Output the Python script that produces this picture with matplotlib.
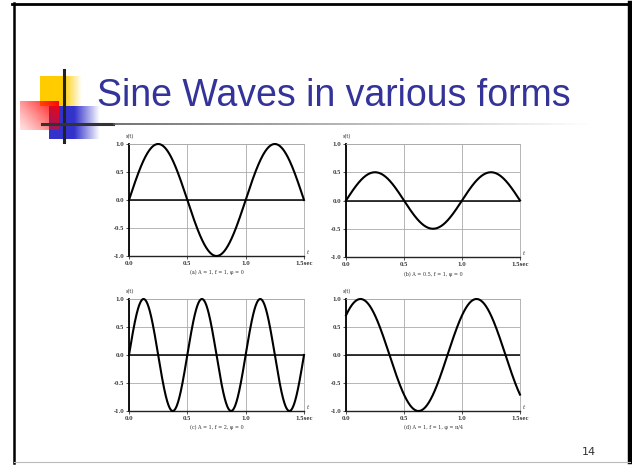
import numpy as np
import matplotlib.pyplot as plt
from matplotlib.collections import LineCollection

# 每个小图的正弦参数 (振幅, 频率, 相位)
amplitudes = [1.0, 0.5, 1.0, 1.0]
frequencies = [1.0, 1.0, 2.0, 1.0]
phases = [0.0, 0.0, 0.0, np.pi / 4]
captions = ['(a) A = 1, f = 1, φ = 0', '(b) A = 0.5, f = 1, φ = 0',
            '(c) A = 1, f = 2, φ = 0', '(d) A = 1, f = 1, φ = π/4']
y_ticks = [-1.0, -0.5, 0.0, 0.5, 1.0]
y_tick_labels = ['-1.0', '-0.5', '0.0', '0.5', '1.0']
x_ticks = [0.0, 0.5, 1.0, 1.5]
x_tick_labels = ['0.0', '0.5', '1.0', '1.5sec']
t = np.linspace(0, 1.5, 600)

W, H = 632, 465


def box(x0, y0, x1, y1):
    return [x0 / W, 1 - y1 / H, (x1 - x0) / W, (y1 - y0) / H]


fig = plt.figure(figsize=(6.32, 4.65), dpi=100)

# 背景层：边框和左上角装饰
bg = fig.add_axes([0, 0, 1, 1], zorder=0)
bg.axis('off')

bg.plot([14, 14], [3, 463], color='black', lw=1.8)
bg.plot([12, 630], [4, 4], color='black', lw=2.0)
bg.plot([630, 630], [3, 462], color='black', lw=3.2)
bg.plot([14, 630], [462, 462], color='#bbbbbb', lw=0.8)

nx = 100
xx = np.linspace(0, 1, nx)

# 黄色方块
img = np.zeros((1, nx, 4))
img[..., 0], img[..., 1], img[..., 2] = 1.0, 0.8, 0.0
img[0, :, 3] = np.clip(np.where(xx < 0.55, 1.0, (1 - xx) / 0.45), 0, 1)
bg.imshow(img, extent=(40, 82, 106, 77), aspect='auto', interpolation='bilinear')

# 蓝色方块
img = np.zeros((1, nx, 4))
img[..., 0], img[..., 1], img[..., 2] = 0.2, 0.2, 0.8
img[0, :, 3] = np.clip(np.where(xx < 0.5, 1.0, (1 - xx) / 0.5), 0, 1)
bg.imshow(img, extent=(49, 100, 139, 106), aspect='auto', interpolation='bilinear')

# 红色方块（右上最红）
gx, gy = np.meshgrid(np.linspace(0, 1, 60), np.linspace(0, 1, 60))
img = np.zeros((60, 60, 4))
img[..., 0], img[..., 1], img[..., 2] = 1.0, 0.0, 0.0
img[..., 3] = np.clip(0.12 + 0.88 * (0.6 * gx + 0.4 * (1 - gy)) ** 1.2, 0, 1)
bg.imshow(img, extent=(20, 59, 130, 101), aspect='auto', interpolation='bilinear')

bg.set_xlim(0, W)
bg.set_ylim(H, 0)

# 十字线与标题下划线
bg.plot([64, 64], [70, 142], color='#222222', lw=2.2)
bg.plot([42, 113], [124.5, 124.5], color='#333333', lw=2.2)
xs = np.linspace(113, 595, 80)
segs = [[(xs[i], 124.5), (xs[i + 1], 124.5)] for i in range(len(xs) - 1)]
fade = np.linspace(0.35, 1.0, len(segs))
bg.add_collection(LineCollection(segs, colors=[(f, f, f) for f in fade], lw=1.2))

fig.text(97 / W, 1 - 106 / H, 'Sine Waves in various forms', fontsize=27,
         color='#333399', family=['Liberation Sans', 'DejaVu Sans'],
         va='baseline')
fig.text(582 / W, 1 - 455 / H, '14', fontsize=8, color='#333333')

# 四个小图
boxes = [(129, 144, 304, 256), (346, 144, 520, 257),
         (129, 299, 304, 411), (346, 299, 520, 411)]

for i in range(4):
    ax = fig.add_axes(box(*boxes[i]), zorder=2)
    s = amplitudes[i] * np.sin(2 * np.pi * frequencies[i] * t + phases[i])
    ax.plot(t, s, color='black', lw=1.5, clip_on=False, zorder=4)
    ax.axhline(0, color='black', lw=1.1, zorder=3)
    ax.set_xlim(0, 1.5)
    ax.set_ylim(-1, 1)
    ax.set_xticks(x_ticks, x_tick_labels)
    ax.set_yticks(y_ticks, y_tick_labels)
    ax.grid(color='#aaaaaa', lw=0.6)
    ax.tick_params(labelsize=3.5, length=2.5, width=0.6, pad=1,
                   colors='#333333')
    for lab in ax.get_xticklabels() + ax.get_yticklabels():
        lab.set_family('DejaVu Serif')
        lab.set_fontweight('bold')
    ax.spines['left'].set_linewidth(1.3)
    ax.spines['left'].set_color('black')
    ax.spines['bottom'].set_linewidth(1.0)
    ax.spines['bottom'].set_color('#222222')
    ax.spines['top'].set_color('#aaaaaa')
    ax.spines['right'].set_color('#aaaaaa')
    ax.spines['top'].set_linewidth(0.6)
    ax.spines['right'].set_linewidth(0.6)
    ax.text(-0.02, 1.04, 's(t)', transform=ax.transAxes, fontsize=3.5,
            family='DejaVu Serif', color='#333333', va='bottom')
    ax.text(1.015, 0.02, 't', transform=ax.transAxes, fontsize=4,
            style='italic', family='DejaVu Serif', color='#333333')
    ax.text(0.5, -0.15, captions[i], transform=ax.transAxes, fontsize=3.5,
            family='DejaVu Serif', color='#333333', ha='center', va='center')

fig.savefig('out.png', dpi=100)
